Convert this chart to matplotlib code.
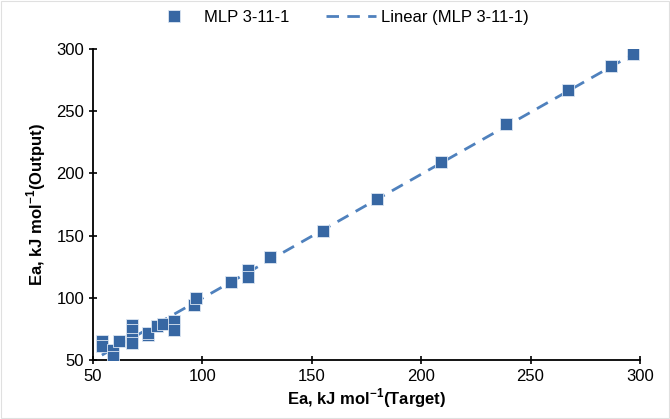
import numpy as np
import matplotlib
matplotlib.use('Agg')
import matplotlib.pyplot as plt

plt.rcParams['font.family'] = ['Liberation Sans', 'DejaVu Sans']
plt.rcParams['mathtext.fontset'] = 'custom'
plt.rcParams['mathtext.rm'] = 'Liberation Sans'
plt.rcParams['mathtext.bf'] = 'Liberation Sans:bold'

# Ea target vs network output (kJ/mol)
target = [54, 54, 59, 59, 62, 68, 68, 68, 68, 75, 75, 79, 82, 87, 87,
          96, 97, 113, 121, 121, 131, 155, 180, 209, 239, 267, 287, 297]
output = [65, 61, 58, 52, 65, 78, 74, 67, 64, 70, 72, 77, 79, 81, 74,
          94, 100, 113, 122, 117, 133, 154, 179, 209, 240, 267, 286, 296]
series_name = 'MLP 3-11-1'
xticks = [50, 100, 150, 200, 250, 300]
yticks = [50, 100, 150, 200, 250, 300]

x = np.array(target, float); y = np.array(output, float)
b, a = np.polyfit(x, y, 1)
xl = np.array([x.min(), x.max()])

fig = plt.figure(figsize=(6.7, 4.19), dpi=100)
ax = fig.add_axes([0.139, 0.141, 0.816, 0.742])
ax.plot(x, y, 's', ms=8.5, mfc='#3767a3', mec='#dce6f2', mew=0.6,
        label=series_name, zorder=3)
ax.plot(xl, a + b*xl, '--', color='#4f81bd', lw=2, dashes=(4.5, 3),
        label=f'Linear ({series_name})', zorder=2)
ax.set_xlim(50, 300); ax.set_ylim(50, 300)
ax.set_xticks(xticks); ax.set_yticks(yticks)
ax.tick_params(direction='inout', length=6, width=1.2, labelsize=12, colors='black')
for s in ['top', 'right']:
    ax.spines[s].set_visible(False)
for s in ['left', 'bottom']:
    ax.spines[s].set_linewidth(1.3)
ax.set_xlabel(r'Ea, kJ mol$^{\mathbf{-1}}$(Target)', fontsize=12, fontweight='bold', labelpad=2)
ax.set_ylabel(r'Ea, kJ mol$^{\mathbf{-1}}$(Output)', fontsize=12, fontweight='bold', labelpad=6)
ax.legend(loc='lower center', bbox_to_anchor=(0.45, 1.03), ncol=2, frameon=False,
          fontsize=12, handlelength=3, handletextpad=0.3, columnspacing=2.2)
fig.patches.append(plt.Rectangle((0.002, 0.002), 0.996, 0.995, transform=fig.transFigure,
                                 fill=False, ec='#e0e0e0', lw=0.8))
plt.savefig('out.png', dpi=100)
